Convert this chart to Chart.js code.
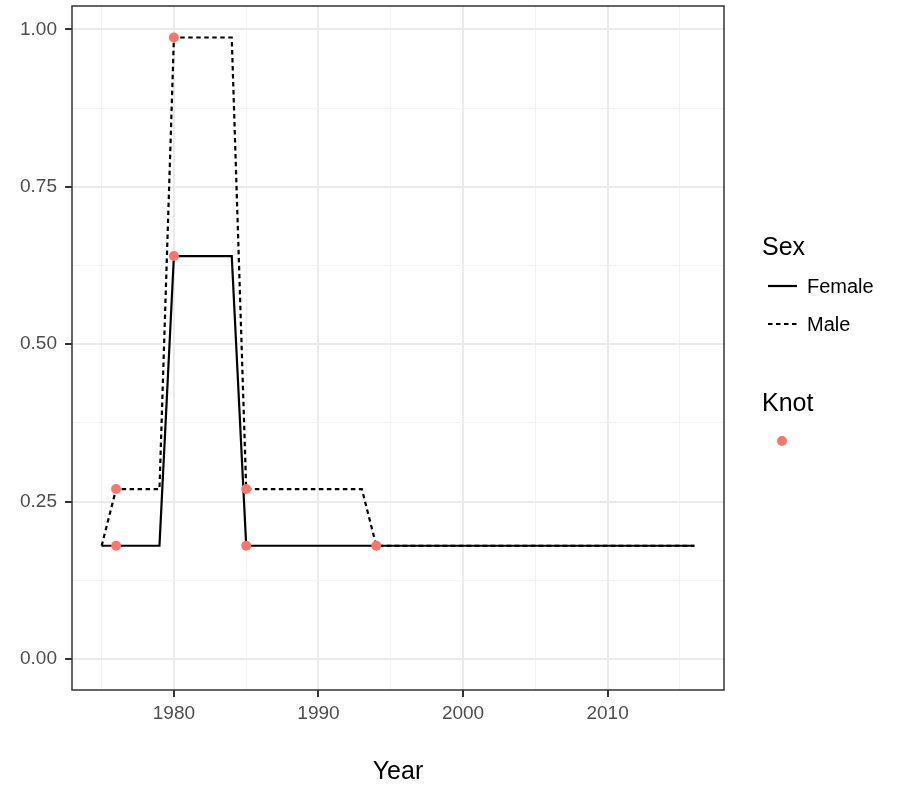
<!DOCTYPE html>
<html>
<head>
<meta charset="utf-8">
<script src="https://cdn.jsdelivr.net/npm/chart.js@4"></script>
<style>
  html, body { margin: 0; padding: 0; background: #fff; }
  #wrap { width: 899px; height: 788px; }
</style>
</head>
<body>
<div id="wrap"><canvas id="knotChart" width="899" height="788"></canvas></div>
<script>
// data
var femaleYears  = [1975, 1979, 1980, 1984, 1985, 2016];
var femaleValues = [0.18, 0.18, 0.64, 0.64, 0.18, 0.18];
var maleYears    = [1975, 1976, 1979, 1980, 1984, 1985, 1993, 1994, 2016];
var maleValues   = [0.18, 0.27, 0.27, 0.987, 0.987, 0.27, 0.27, 0.18, 0.18];
var knotYears    = [1976, 1976, 1980, 1980, 1985, 1985, 1994];
var knotValues   = [0.18, 0.27, 0.64, 0.987, 0.27, 0.18, 0.18];
var xTicks = [1975, 1980, 1985, 1990, 1995, 2000, 2005, 2010, 2015];
var xMajor = [1980, 1990, 2000, 2010];
var yTicks = [0, 0.125, 0.25, 0.375, 0.5, 0.625, 0.75, 0.875, 1];
var yMajor = [0, 0.25, 0.5, 0.75, 1];

var FONT = "'Liberation Sans', Arial, sans-serif";
var KNOT_COL = '#F8766D';
var DASH = [4.5, 3.5];

function toXY(xs, ys) {
    return xs.map(function(x, i) { return { x: x, y: ys[i] }; });
}
function isMajor(list, v) {
    return list.some(function(m) { return Math.abs(m - v) < 1e-9; });
}

// panel border + legend (ggplot style)
var panelPlugin = {
    id: 'panel',
    afterDraw: function(chart) {
        var ctx = chart.ctx, a = chart.chartArea;
        ctx.save();
        ctx.strokeStyle = '#333333';
        ctx.lineWidth = 1.5;
        ctx.strokeRect(a.left, a.top, a.right - a.left, a.bottom - a.top);

        ctx.fillStyle = '#000';
        ctx.textBaseline = 'middle';
        ctx.textAlign = 'left';
        ctx.font = '25px ' + FONT;
        ctx.fillText('Sex', 762, 248);
        ctx.fillText('Knot', 762, 404);

        ctx.font = '20px ' + FONT;
        ctx.fillText('Female', 807, 287);
        ctx.fillText('Male', 807, 325);

        ctx.strokeStyle = '#000';
        ctx.lineWidth = 2.2;
        ctx.beginPath();
        ctx.moveTo(768, 286); ctx.lineTo(797, 286);
        ctx.stroke();
        ctx.setLineDash(DASH);
        ctx.beginPath();
        ctx.moveTo(768, 324); ctx.lineTo(797, 324);
        ctx.stroke();
        ctx.setLineDash([]);

        ctx.fillStyle = KNOT_COL;
        ctx.beginPath();
        ctx.arc(782, 441, 5, 0, Math.PI * 2);
        ctx.fill();
        ctx.restore();
    }
};

var ctx = document.getElementById('knotChart').getContext('2d');
var chart = new Chart(ctx, {
    type: 'scatter',
    data: {
        datasets: [{
            label: 'Knot',
            data: toXY(knotYears, knotValues),
            backgroundColor: KNOT_COL,
            borderColor: KNOT_COL,
            pointRadius: 5,
            pointBorderWidth: 0,
            showLine: false,
            order: 0
        }, {
            label: 'Female',
            data: toXY(femaleYears, femaleValues),
            borderColor: '#000',
            borderWidth: 2.2,
            pointRadius: 0,
            showLine: true,
            fill: false,
            tension: 0,
            order: 1
        }, {
            label: 'Male',
            data: toXY(maleYears, maleValues),
            borderColor: '#000',
            borderWidth: 2.2,
            borderDash: DASH,
            pointRadius: 0,
            showLine: true,
            fill: false,
            tension: 0,
            order: 2
        }]
    },
    options: {
        responsive: false,
        animation: false,
        layout: { padding: { top: 6, right: 175, left: 0, bottom: 0 } },
        plugins: {
            legend: { display: false },
            tooltip: { enabled: false }
        },
        scales: {
            x: {
                type: 'linear',
                min: 1972.95,
                max: 2018.05,
                afterBuildTicks: function(s) {
                    s.ticks = xTicks.map(function(v) { return { value: v }; });
                },
                afterFit: function(s) {
                    s.height = 98;
                    s.paddingLeft = 0; s.paddingRight = 0;
                },
                grid: {
                    color: function(c) { return isMajor(xMajor, c.tick.value) ? '#ebebeb' : '#f2f2f2'; },
                    lineWidth: function(c) { return isMajor(xMajor, c.tick.value) ? 2 : 1; },
                    tickColor: function(c) { return isMajor(xMajor, c.tick.value) ? '#333333' : 'rgba(0,0,0,0)'; },
                    tickLength: 7,
                    drawTicks: true
                },
                border: { display: false },
                ticks: {
                    autoSkip: false,
                    maxRotation: 0,
                    padding: 5,
                    color: '#4d4d4d',
                    font: { family: FONT, size: 19 },
                    callback: function(v) { return isMajor(xMajor, v) ? String(v) : ''; }
                },
                title: {
                    display: true,
                    text: 'Year',
                    color: '#000',
                    font: { family: FONT, size: 25 },
                    padding: { top: 0, bottom: 1 }
                }
            },
            y: {
                type: 'linear',
                min: -0.049,
                max: 1.037,
                afterBuildTicks: function(s) {
                    s.ticks = yTicks.map(function(v) { return { value: v }; });
                },
                afterFit: function(s) {
                    s.width = 72;
                    s.paddingTop = 0; s.paddingBottom = 0;
                },
                grid: {
                    color: function(c) { return isMajor(yMajor, c.tick.value) ? '#ebebeb' : '#f2f2f2'; },
                    lineWidth: function(c) { return isMajor(yMajor, c.tick.value) ? 2 : 1; },
                    tickColor: function(c) { return isMajor(yMajor, c.tick.value) ? '#333333' : 'rgba(0,0,0,0)'; },
                    tickLength: 7,
                    drawTicks: true
                },
                border: { display: false },
                ticks: {
                    autoSkip: false,
                    padding: 8,
                    color: '#4d4d4d',
                    font: { family: FONT, size: 19 },
                    callback: function(v) { return isMajor(yMajor, v) ? v.toFixed(2) : ''; }
                }
            }
        }
    },
    plugins: [panelPlugin]
});
</script>
</body>
</html>
